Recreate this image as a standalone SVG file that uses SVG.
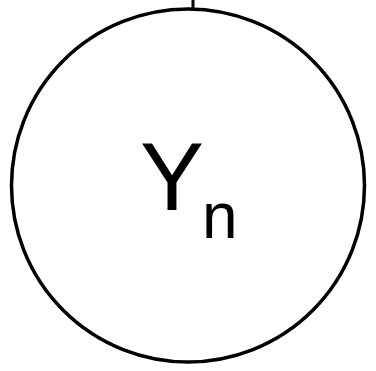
<svg xmlns="http://www.w3.org/2000/svg" width="376" height="371" viewBox="0 0 376 371">
<style>
.node{fill:#fff;stroke:#000;stroke-width:3.5}
.lbl{font-family:"Liberation Sans",Arial,sans-serif;fill:#000}
.conn{stroke:#000;stroke-width:3;fill:none}
</style>
<rect width="376" height="371" fill="#fff"/>
<g id="connectors">
<line class="conn" x1="193" y1="0" x2="193" y2="8"/>
</g>
<g id="node-Yn">
<circle class="node" cx="188" cy="185.5" r="176.5"/>
<text class="lbl" x="140" y="210" font-size="96">Y</text>
<text class="lbl" x="202" y="238" font-size="64" fill="#10203a">n</text>
</g>
</svg>
